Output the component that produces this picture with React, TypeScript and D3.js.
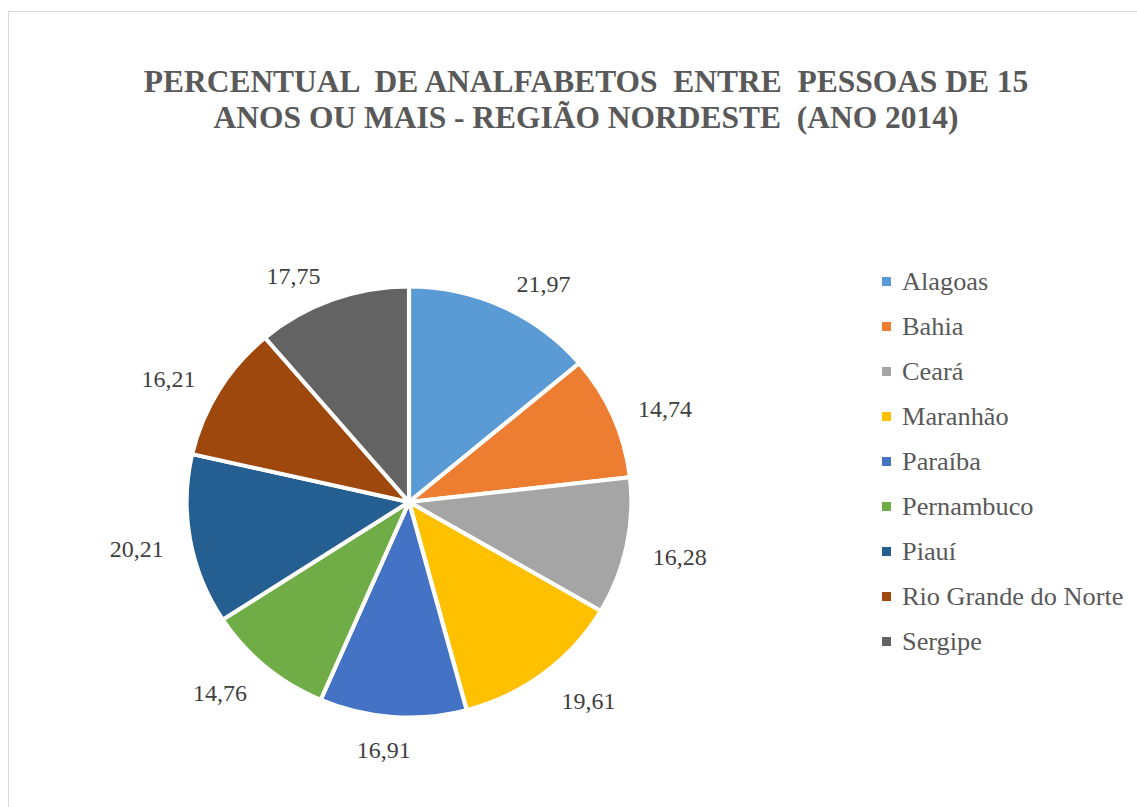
import React from "react";
import * as d3 from "d3";

const estados = [
  "Alagoas",
  "Bahia",
  "Ceará",
  "Maranhão",
  "Paraíba",
  "Pernambuco",
  "Piauí",
  "Rio Grande do Norte",
  "Sergipe",
];
const percentuais = [21.97, 14.74, 16.28, 19.61, 16.91, 14.76, 20.21, 16.21, 17.75];
const cores = [
  "#5b9bd5",
  "#ed7d31",
  "#a5a5a5",
  "#ffc000",
  "#4472c4",
  "#70ad47",
  "#255e91",
  "#9e480e",
  "#636363",
];
const tituloLinhas = [
  "PERCENTUAL  DE ANALFABETOS  ENTRE  PESSOAS DE 15",
  "ANOS OU MAIS - REGIÃO NORDESTE  (ANO 2014)",
];

const W = 1137;
const H = 807;
const cx = 409;
const cy = 502;
const r = 215.5;
const sx = 1.032; // tudo um pouco esticado na horizontal
const fonte = "Liberation Serif";

type Fatia = { nome: string; valor: number; cor: string };

export default function App() {
  const dados: Fatia[] = estados.map((nome, i) => ({ nome, valor: percentuais[i], cor: cores[i] }));
  const pie = d3
    .pie<Fatia>()
    .value((d) => d.valor)
    .sort(null);
  const arcos = pie(dados);
  const arc = d3.arc<d3.PieArcDatum<Fatia>>().innerRadius(0).outerRadius(r);

  const fmt = (v: number) => d3.format(".2f")(v).replace(".", ",");

  const legenda = d3.scalePoint<string>().domain(estados).range([290, 650]);

  // rótulos fora da pizza (tipo "extremidade externa" do Excel)
  const rotuloR = 245;
  const meiaLarg = 31;

  return (
    <div style={{ position: "absolute", left: 0, top: 0 }}>
      <svg width={W} height={H} style={{ display: "block", background: "#fff" }}>
        <rect x={8.5} y={11.5} width={1140} height={810} fill="#fff" stroke="#d9d9d9" />
        {tituloLinhas.map((t, i) => (
          <text
            key={i}
            transform={`translate(586,${92 + i * 36}) scale(${sx},1)`}
            textAnchor="middle"
            fontSize={30.5}
            fontWeight="bold"
            fill="#595959"
            style={{ whiteSpace: "pre", fontFamily: fonte }}
          >
            {t}
          </text>
        ))}

        <g transform={`translate(${cx},${cy}) scale(${sx},1)`}>
          {arcos.map((a, i) => (
            <path key={i} d={arc(a) || ""} fill={a.data.cor} stroke="#fff" strokeWidth={4} strokeLinejoin="round" />
          ))}
        </g>

        {arcos.map((a, i) => {
          const m = (a.startAngle + a.endAngle) / 2;
          const s = Math.sin(m);
          const c = Math.cos(m);
          const x = cx + rotuloR * s + meiaLarg * Math.sign(s) * Math.min(1, Math.abs(s) / 0.3);
          const y = cy + 4 - rotuloR * c + 8;
          return (
            <text key={i} x={x} y={y} textAnchor="middle" fontSize={24} fill="#404040" style={{ fontFamily: fonte }}>
              {fmt(a.data.valor)}
            </text>
          );
        })}

        {dados.map((d) => (
          <g key={d.nome} transform={`translate(882,${legenda(d.nome)})`}>
            <rect x={0} y={-13} width={9} height={9} fill={d.cor} />
            <text
              transform={`translate(20,0) scale(${sx},1)`}
              fontSize={25.5}
              fill="#595959"
              style={{ fontFamily: fonte }}
            >
              {d.nome}
            </text>
          </g>
        ))}
      </svg>
    </div>
  );
}
